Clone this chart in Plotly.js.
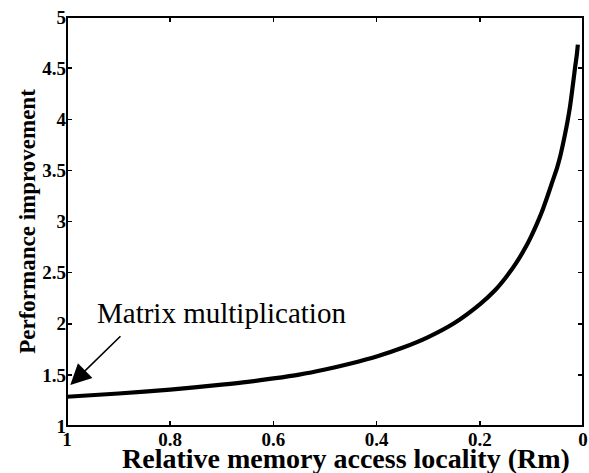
<!DOCTYPE html>
<html>
<head>
<meta charset="utf-8">
<script src="https://cdn.plot.ly/plotly-3.0.1.min.js"></script>
<style>html,body{margin:0;padding:0;background:#fff;}#chart{width:589px;height:473px;}</style>
</head>
<body>
<div id="chart"></div>
<script>
var rm = [1.0, 0.9, 0.8, 0.7, 0.65, 0.6, 0.55, 0.5, 0.45, 0.4, 0.35, 0.3, 0.25, 0.2, 0.17, 0.15, 0.13, 0.11, 0.1, 0.09, 0.08, 0.07, 0.06, 0.05, 0.045, 0.04, 0.035, 0.03, 0.025, 0.02, 0.015, 0.012, 0.01];
var perf = [1.286, 1.318, 1.356, 1.405, 1.432, 1.465, 1.503, 1.553, 1.612, 1.68, 1.765, 1.87, 2.005, 2.19, 2.33, 2.45, 2.59, 2.76, 2.86, 2.97, 3.09, 3.23, 3.38, 3.53, 3.62, 3.73, 3.85, 3.98, 4.13, 4.32, 4.52, 4.63, 4.73];
var xTicks = [1, 0.8, 0.6, 0.4, 0.2, 0];
var xTickText = ['1', '0.8', '0.6', '0.4', '0.2', '0'];
var yTicks = [1, 1.5, 2, 2.5, 3, 3.5, 4, 4.5, 5];
var yTickText = ['1', '1.5', '2', '2.5', '3', '3.5', '4', '4.5', '5'];
var labelText = 'Matrix multiplication';
var xTitle = 'Relative memory access locality (Rm)';
var yTitle = 'Performance improvement';

var serif = '"Liberation Serif", "Times New Roman", Times, serif';
var bold = function (s) { return '<b>' + s + '</b>'; };

var trace = {
  x: rm, y: perf, type: 'scatter', mode: 'lines',
  line: {color: '#000', width: 4.2, shape: 'spline', smoothing: 0.8},
  hoverinfo: 'skip'
};

var axisCommon = {
  showgrid: false, zeroline: false, showline: false, mirror: 'ticks',
  ticks: 'inside', ticklen: 5, tickwidth: 1.5, tickcolor: '#000',
  tickfont: {family: serif, size: 19, color: '#000'},
  automargin: false
};

var layout = {
  width: 589, height: 473,
  margin: {l: 67, r: 6, t: 17, b: 47},
  paper_bgcolor: '#fff', plot_bgcolor: '#fff',
  showlegend: false,
  font: {family: serif, color: '#000'},
  xaxis: Object.assign({}, axisCommon, {
    range: [1, 0], tickvals: xTicks, ticktext: xTickText.map(bold)
  }),
  yaxis: Object.assign({}, axisCommon, {
    range: [1, 5], tickvals: yTicks, ticktext: yTickText.map(bold),
    title: {text: bold(yTitle), font: {family: serif, size: 23, color: '#000'}, standoff: 0}
  }),
  shapes: [
    {type: 'rect', xref: 'paper', yref: 'paper', x0: 0, x1: 1, y0: 0, y1: 1,
     line: {color: '#000', width: 2}, fillcolor: 'rgba(0,0,0,0)', layer: 'above'}
  ],
  annotations: [
    {
      x: 0.5407, y: -0.037, xref: 'paper', yref: 'paper', xanchor: 'center', yanchor: 'top',
      text: bold(xTitle), showarrow: false,
      font: {family: serif, size: 28, color: '#000'}
    },
    {
      x: 0.9936, y: 1.40, xref: 'x', yref: 'y',
      ax: 0.8935, ay: 1.892, axref: 'x', ayref: 'y',
      text: '', showarrow: true, arrowhead: 2, arrowsize: 2.6, arrowwidth: 1.6, arrowcolor: '#000'
    },
    {
      x: 0.9465, y: 1.93, xref: 'x', yref: 'y', xanchor: 'left', yanchor: 'bottom',
      text: labelText, showarrow: false,
      font: {family: serif, size: 29, color: '#000'}
    }
  ]
};

Plotly.newPlot('chart', [trace], layout, {staticPlot: true, displayModeBar: false});
</script>
</body>
</html>
